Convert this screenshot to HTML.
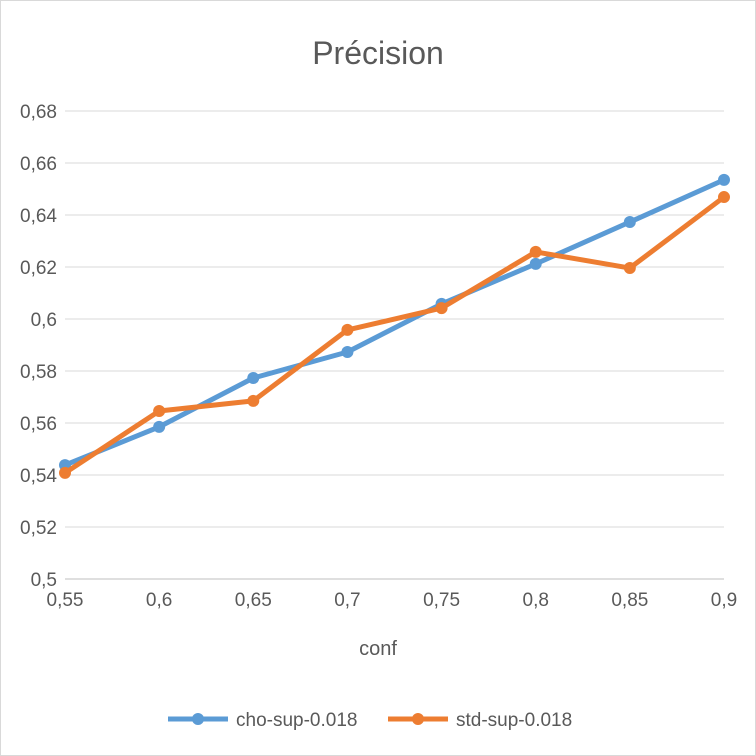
<!DOCTYPE html>
<html><head><meta charset="utf-8"><style>
html,body{margin:0;padding:0;background:#fff}
svg{display:block;font-family:"Liberation Sans",sans-serif}
</style></head><body>
<svg id="chart" width="756" height="756">
<rect x="0.5" y="0.5" width="755" height="755" fill="#fff" stroke="#d9d9d9"/>
<text x="378" y="64" text-anchor="middle" font-size="32" fill="#595959">Précision</text>
<g id="grid"></g><g id="axes"></g><g id="series"></g>
<text x="378" y="655" text-anchor="middle" font-size="20" fill="#595959">conf</text>
<g>
<g>
<line x1="168" y1="719" x2="228" y2="719" stroke="#5B9BD5" stroke-width="5"/><circle cx="198" cy="719" r="6" fill="#5B9BD5"/>
<text x="236" y="726" font-size="19" fill="#595959">cho-sup-0.018</text></g>
<g>
<line x1="388" y1="719" x2="448" y2="719" stroke="#ED7D31" stroke-width="5"/><circle cx="418" cy="719" r="6" fill="#ED7D31"/>
<text x="456" y="726" font-size="19" fill="#595959">std-sup-0.018</text></g>
</g>
</svg>
<script>
const categories=[0.55,0.6,0.65,0.7,0.75,0.8,0.85,0.9];
const xLabels=["0,55","0,6","0,65","0,7","0,75","0,8","0,85","0,9"];
const choValues=[0.5438,0.5585,0.5773,0.5873,0.6058,0.6212,0.6373,0.6535];
const stdValues=[0.5408,0.5646,0.5685,0.5958,0.6042,0.6258,0.6196,0.6469];
const yTicks=[0.5,0.52,0.54,0.56,0.58,0.6,0.62,0.64,0.66,0.68];
const yLabels=["0,5","0,52","0,54","0,56","0,58","0,6","0,62","0,64","0,66","0,68"];
const NS="http://www.w3.org/2000/svg";
const X0=65,X1=724,Y0=579,Y1=111;
const xs=v=>X0+(v-0.55)/(0.9-0.55)*(X1-X0);
const ys=v=>Y0-(v-0.5)/(0.68-0.5)*(Y0-Y1);
function mk(t,a,p){const e=document.createElementNS(NS,t);for(const k in a)e.setAttribute(k,a[k]);p.appendChild(e);return e;}
const grid=document.getElementById('grid'),axes=document.getElementById('axes'),ser=document.getElementById('series');
yTicks.forEach((v,i)=>{
 const l=mk('line',{x1:X0,x2:X1,y1:ys(v),y2:ys(v),stroke:i==0?'#bfbfbf':'#d9d9d9','stroke-width':1},grid);
 
 
 const t=mk('text',{x:57,y:ys(v)+7,'text-anchor':'end','font-size':19,fill:'#595959'},axes);
 t.textContent=yLabels[i];
 
 
});
categories.forEach((c,i)=>{
 const t=mk('text',{x:xs(c),y:606,'text-anchor':'middle','font-size':19,fill:'#595959'},axes);
 t.textContent=xLabels[i];
 
 
});
function draw(vals,color,name){
 const pts=vals.map((v,i)=>xs(categories[i])+','+ys(v)).join(' ');
 const pl=mk('polyline',{points:pts,fill:'none',stroke:color,'stroke-width':5,'stroke-linejoin':'round'},ser);
 
 
 vals.forEach((v,i)=>{
  const c=mk('circle',{cx:xs(categories[i]),cy:ys(v),r:6,fill:color},ser);
  
  
 });
}
draw(choValues,'#5B9BD5','cho-sup');
draw(stdValues,'#ED7D31','std-sup');
</script>
</body></html>
